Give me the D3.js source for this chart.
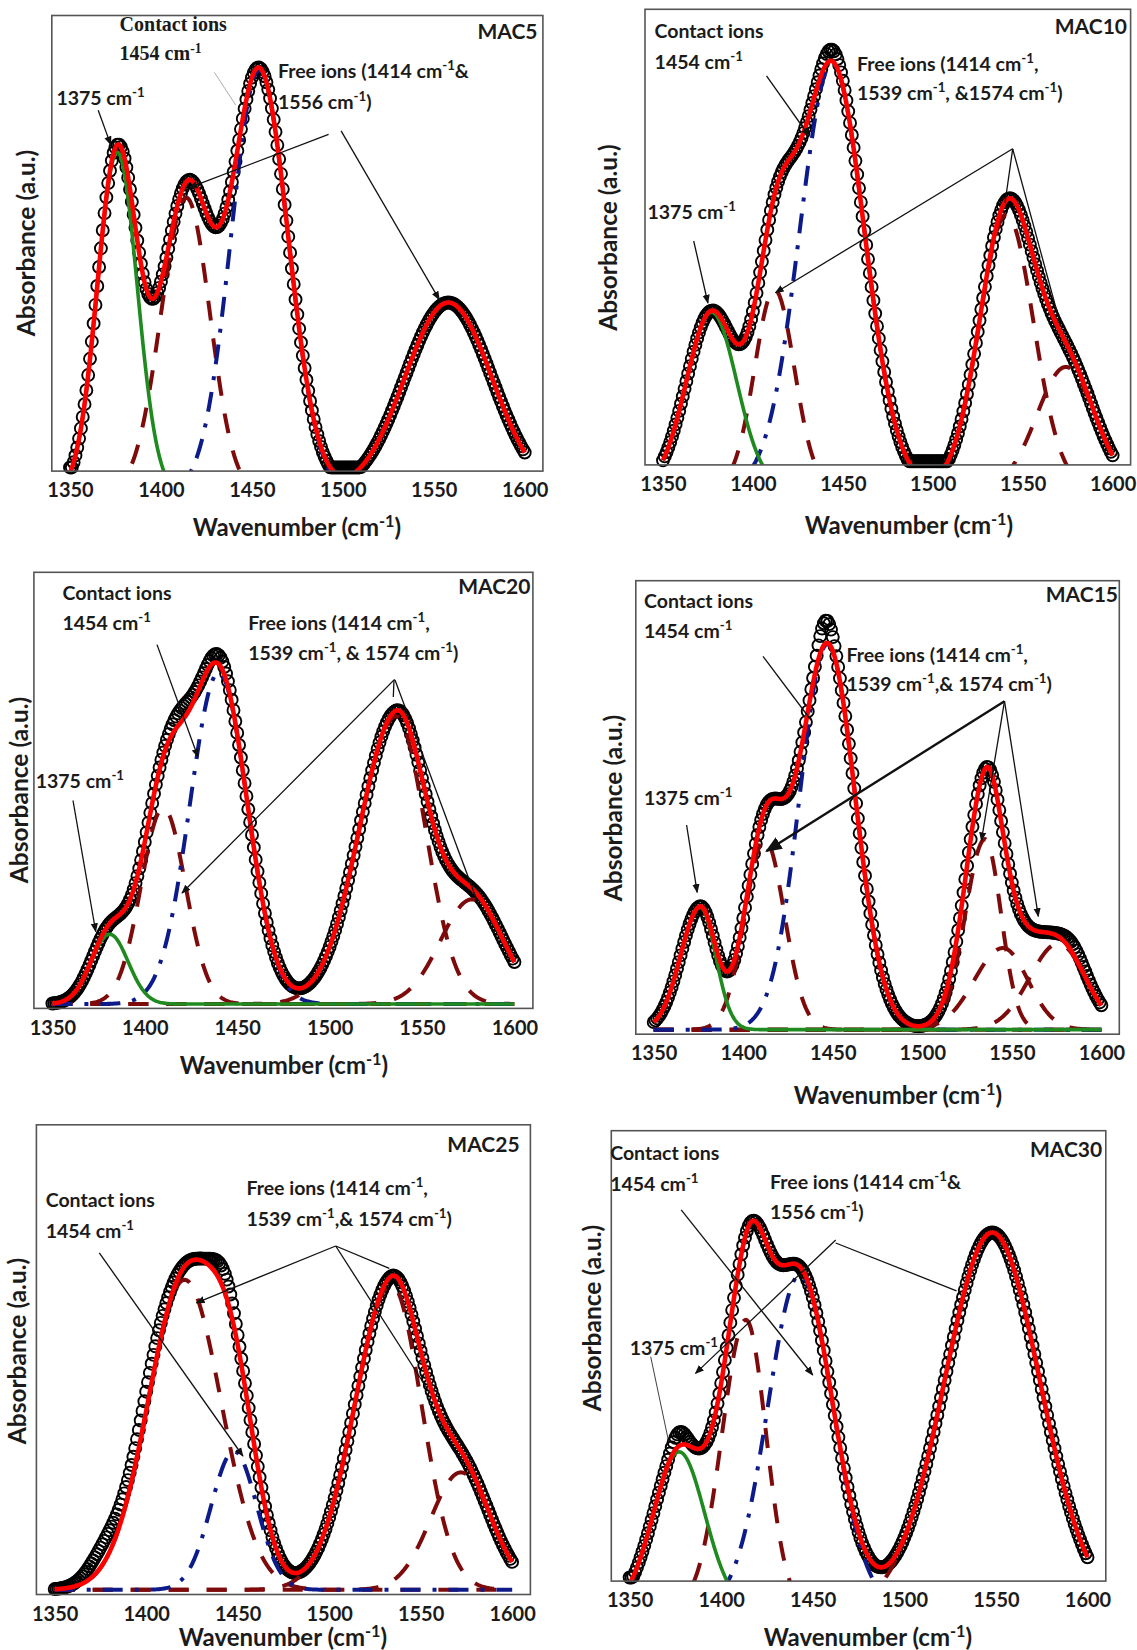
<!DOCTYPE html>
<html>
<head>
<meta charset="utf-8">
<script src="https://cdn.jsdelivr.net/npm/d3@7"></script>
<style>
  body { margin: 0; background: #fff; }
  svg text { font-family: Lato, "Open Sans", sans-serif; font-weight: 700; fill: #1b1b1b; }
</style>
</head>
<body>
<svg id="chart" width="1137" height="1650"></svg>
<script>
// x axis (wavenumber, cm-1)
var tickValues = [1350, 1400, 1450, 1500, 1550, 1600];
var xDomain = [1340, 1610];

// fitted bands, one row per band: [centre cm-1, height a.u., left width, right width]
// heights are read as a fraction of the plot height, base is the fit baseline
var mac5Base = -0.05;
var mac5Band1375 = [[1376, 0.75, 11, 11]];
var mac5Free = [[1414, 0.65, 14, 13], [1558, 0.42, 24, 24]];
var mac5Contact = [[1454, 0.93, 15.5, 16]];
var mac5Misfit = [];

var mac10Base = -0.05;
var mac10Band1375 = [[1377, 0.385, 14, 14]];
var mac10Free = [[1412, 0.435, 11, 11], [1541, 0.60, 15, 15], [1574, 0.265, 16, 16]];
var mac10Contact = [[1444, 0.93, 18, 18]];
var mac10Misfit = [[1444, 0.025, 5, 5]];

var mac20Base = 0.01;
var mac20Band1375 = [[1381, 0.16, 10, 10]];
var mac20Free = [[1410, 0.45, 12, 12], [1536, 0.66, 20, 16], [1577, 0.24, 17, 17]];
var mac20Contact = [[1440, 0.76, 15.5, 15.5]];
var mac20Misfit = [[1420, 0.03, 6, 6], [1440, 0.02, 5, 5]];

var mac15Base = 0.01;
var mac15Band1375 = [[1376, 0.27, 11, 8.6]];
var mac15Free = [[1412, 0.42, 11, 11], [1535, 0.42, 11, 9], [1545, 0.18, 16, 14], [1576, 0.19, 16, 15]];
var mac15Contact = [[1447, 0.85, 15.5, 15.5]];
var mac15Misfit = [[1446, 0.05, 4, 4], [1585, 0.02, 6, 6]];

var mac25Base = 0.01;
var mac25Band1375 = [];
var mac25Free = [[1421, 0.66, 20, 20], [1534, 0.65, 20, 16.5], [1572, 0.25, 16.5, 16.5]];
var mac25Contact = [[1448, 0.295, 12.5, 12.5]];
var mac25Misfit = [[1378, 0.045, 9, 9], [1402, 0.04, 9, 9], [1443, 0.04, 6, 6]];

var mac30Base = -0.06;
var mac30Band1375 = [[1377, 0.347, 14, 14]];
var mac30Free = [[1413.5, 0.64, 13, 11], [1548, 0.834, 26, 26]];
var mac30Contact = [[1443, 0.74, 17.5, 18]];
var mac30Misfit = [[1377, 0.03, 4, 4]];

// annotations: text (^-1 = superscript), left x, middle y
var mac5Notes = [["Contact ions", 119.6, 24.1, "serif"], ["1454 cm^-1", 119.6, 53.4, "serif"],
  ["1375 cm^-1", 56.4, 98.1], ["Free ions (1414 cm^-1&", 277.9, 70.6], ["1556 cm^-1)", 277.9, 101.6]];
var mac10Notes = [["Contact ions", 654.6, 31], ["1454 cm^-1", 654.6, 62], ["Free ions (1414 cm^-1,", 857, 63.7],
  ["1539 cm^-1, &1574 cm^-1)", 857, 93], ["1375 cm^-1", 647.5, 211.8]];
var mac20Notes = [["Contact ions", 62.5, 593.2], ["1454 cm^-1", 62.5, 623], ["Free ions (1414 cm^-1,", 248.2, 623],
  ["1539 cm^-1, & 1574 cm^-1)", 248.2, 652.9], ["1375 cm^-1", 35.7, 780.6]];
var mac15Notes = [["Contact ions", 644, 600.6], ["1454 cm^-1", 644, 630.6], ["Free ions (1414 cm^-1,", 846.4, 654.7],
  ["1539 cm^-1,& 1574 cm^-1)", 846.4, 684], ["1375 cm^-1", 644, 797.6]];
var mac25Notes = [["Contact ions", 45.7, 1199.5], ["1454 cm^-1", 45.7, 1230.5], ["Free ions (1414 cm^-1,", 246.4, 1187.5],
  ["1539 cm^-1,& 1574 cm^-1)", 246.4, 1218.5]];
var mac30Notes = [["Contact ions", 610.2, 1153], ["1454 cm^-1", 610.2, 1184], ["Free ions (1414 cm^-1&", 770, 1182.3],
  ["1556 cm^-1)", 770, 1211.6], ["1375 cm^-1", 629.7, 1347.6]];

// pointer lines: x1, y1, x2, y2, arrowhead, width, colour
var mac5Pointers = [[98.2, 110.2, 110.7, 144.6, 1], [214.3, 72.3, 235.7, 105, 0, 0.8, "#999"],
  [328.6, 134.3, 189.3, 187.7, 1], [341.1, 130.9, 439.3, 299.6, 1]];
var mac10Pointers = [[766.5, 75.8, 809.1, 136, 1], [693.7, 241, 707.9, 303, 1], [1012.7, 148.8, 775.4, 292.7, 1],
  [1012.7, 148.8, 1005, 203, 0], [1012.7, 148.8, 1060, 323, 0]];
var mac20Pointers = [[157, 644.6, 198, 757, 1], [73, 800.5, 95.7, 931.5, 1], [394.6, 679.4, 182, 893, 1],
  [394, 680, 393.3, 697, 0], [395, 680, 478.6, 905, 0]];
var mac15Pointers = [[763, 656.4, 810.9, 720, 0], [686.6, 825, 697.2, 892.3, 1], [1004.5, 701.2, 766.5, 851, 1, 2.4],
  [1004.5, 701.2, 981.4, 840.6, 1], [1004.5, 701.2, 1038.3, 916.4, 1]];
var mac25Pointers = [[99.3, 1252.9, 242.9, 1456, 1], [335.7, 1246, 196.4, 1302.8, 1],
  [335.7, 1246, 389.3, 1268.4, 0], [335.7, 1246, 430, 1393, 0]];
var mac30Pointers = [[681.2, 1209.9, 812.7, 1375, 1], [650.7, 1356.7, 669, 1443.3, 0, 0.8],
  [835.7, 1240, 695.5, 1373.4, 1], [835.7, 1243, 956.5, 1290.8, 0]];

var panels = [
  {name: "MAC5", base: mac5Base, b1375: mac5Band1375, free: mac5Free, contact: mac5Contact, misfit: mac5Misfit,
   notes: mac5Notes, pointers: mac5Pointers, box: [51.8, 15.5, 542.9, 471.1], tag: [537.5, 31], xt: [297, 527], yt: [26.8, 243]},
  {name: "MAC10", base: mac10Base, b1375: mac10Band1375, free: mac10Free, contact: mac10Contact, misfit: mac10Misfit,
   notes: mac10Notes, pointers: mac10Pointers, box: [645, 9.3, 1130.6, 464.9], tag: [1127, 26], xt: [909, 525], yt: [608.4, 237.6]},
  {name: "MAC20", base: mac20Base, b1375: mac20Band1375, free: mac20Free, contact: mac20Contact, misfit: mac20Misfit,
   notes: mac20Notes, pointers: mac20Pointers, box: [33.9, 572.3, 532.9, 1008.4], tag: [530.4, 586.5], xt: [284, 1065.8], yt: [19.6, 790]},
  {name: "MAC15", base: mac15Base, b1375: mac15Band1375, free: mac15Free, contact: mac15Contact, misfit: mac15Misfit,
   notes: mac15Notes, pointers: mac15Pointers, box: [635.8, 580.7, 1119.3, 1034.2], tag: [1118, 594.4], xt: [898, 1095], yt: [613.7, 808]},
  {name: "MAC25", base: mac25Base, b1375: mac25Band1375, free: mac25Free, contact: mac25Contact, misfit: mac25Misfit,
   notes: mac25Notes, pointers: mac25Pointers, box: [36.4, 1124.8, 530.4, 1594.5], tag: [519.6, 1144.4], xt: [283, 1637], yt: [17.9, 1351]},
  {name: "MAC30", base: mac30Base, b1375: mac30Band1375, free: mac30Free, contact: mac30Contact, misfit: mac30Misfit,
   notes: mac30Notes, pointers: mac30Pointers, box: [611.3, 1130.7, 1105.8, 1581.1], tag: [1102.2, 1149.6], xt: [868, 1637], yt: [592.4, 1318]}
];

var svg = d3.select("#chart");
var defs = svg.append("defs");
defs.append("marker")
    .attr("id", "arrow")
    .attr("viewBox", "0 0 10 10")
    .attr("refX", 9).attr("refY", 5)
    .attr("markerWidth", 7).attr("markerHeight", 7)
    .attr("orient", "auto")
    .append("path").attr("d", "M0,1L10,5L0,9z").attr("fill", "#111");

// asymmetric gaussian band
function band(p, w) {
    var s = w < p[0] ? p[2] : p[3];
    return p[1] * Math.exp(-(w - p[0]) * (w - p[0]) / (2 * s * s));
}
function sumBands(list, w) {
    return d3.sum(list, function(p) { return band(p, w); });
}

// writes "cm^-1" style text with a raised -1
function richText(sel, str) {
    var parts = str.split("^");
    sel.append("tspan").text(parts[0]);
    parts.slice(1).forEach(function(p) {
        sel.append("tspan").attr("baseline-shift", "super").attr("font-size", "68%").text(p.slice(0, 2));
        sel.append("tspan").text(p.slice(2));
    });
}

var lineGrid = d3.range(1350, 1600.01, 0.5);
var pointGrid = d3.range(1350, 1600.01, 1);

panels.forEach(function(pn, i) {
    var b = pn.box;
    var x = d3.scaleLinear().domain(xDomain).range([b[0], b[2]]);
    var y = d3.scaleLinear().domain([0, 1]).range([b[3], b[1]]);
    var g = svg.append("g").attr("class", "panel");

    defs.append("clipPath").attr("id", "clip" + i)
        .append("rect").attr("x", b[0]).attr("y", b[1]).attr("width", b[2] - b[0]).attr("height", b[3] - b[1]);

    var allBands = pn.b1375.concat(pn.free, pn.contact);
    var fit = function(w) { return pn.base + sumBands(allBands, w); };
    var line = d3.line().x(function(d) { return x(d[0]); }).y(function(d) { return y(d[1]); });

    // measured points
    var measured = pointGrid.map(function(w) {
        return [w, Math.max(0.008, fit(w) + sumBands(pn.misfit, w))];
    });
    g.append("g").selectAll("circle")
        .data(measured)
        .enter().append("circle")
        .attr("cx", function(d) { return x(d[0]); })
        .attr("cy", function(d) { return y(d[1]); })
        .attr("r", 6)
        .attr("fill", "none")
        .attr("stroke", "#000")
        .attr("stroke-width", 1.9);

    var curves = g.append("g").attr("clip-path", "url(#clip" + i + ")");
    pn.free.forEach(function(p) {
        curves.append("path")
            .datum(lineGrid.map(function(w) { return [w, pn.base + band(p, w)]; }))
            .attr("d", line)
            .attr("fill", "none").attr("stroke", "#7d0b0b").attr("stroke-width", 4)
            .attr("stroke-dasharray", "20,18");
    });
    pn.contact.forEach(function(p) {
        curves.append("path")
            .datum(lineGrid.map(function(w) { return [w, pn.base + band(p, w)]; }))
            .attr("d", line)
            .attr("fill", "none").attr("stroke", "#0c1a8a").attr("stroke-width", 4)
            .attr("stroke-dasharray", "20,12,4,12");
    });
    pn.b1375.forEach(function(p) {
        curves.append("path")
            .datum(lineGrid.map(function(w) { return [w, pn.base + band(p, w)]; }))
            .attr("d", line)
            .attr("fill", "none").attr("stroke", "#1f8a1f").attr("stroke-width", 3.6);
    });
    curves.append("path")
        .datum(lineGrid.map(function(w) { return [w, fit(w)]; }))
        .attr("d", line)
        .attr("fill", "none").attr("stroke", "#ff0000").attr("stroke-width", 4.6)
        .attr("stroke-linejoin", "round");

    // frame
    g.append("rect")
        .attr("x", b[0]).attr("y", b[1]).attr("width", b[2] - b[0]).attr("height", b[3] - b[1])
        .attr("fill", "none").attr("stroke", "#555").attr("stroke-width", 1.6);

    var axis = g.append("g")
        .attr("transform", "translate(0," + b[3] + ")")
        .call(d3.axisBottom(x).tickValues(tickValues).tickSize(0).tickPadding(12).tickFormat(d3.format("d")));
    axis.select(".domain").remove();
    axis.selectAll("text").attr("font-size", 20).attr("font-family", "Lato, sans-serif").attr("font-weight", 700).attr("fill", "#1b1b1b");

    var xt = g.append("text").attr("x", pn.xt[0]).attr("y", pn.xt[1] + 8.5)
        .attr("text-anchor", "middle").attr("font-size", 24);
    richText(xt, "Wavenumber (cm^-1)");
    g.append("text")
        .attr("transform", "translate(" + (pn.yt[0] + 8.5) + "," + pn.yt[1] + ") rotate(-90)")
        .attr("text-anchor", "middle").attr("font-size", 24.5)
        .text("Absorbance (a.u.)");
    g.append("text").attr("x", pn.tag[0]).attr("y", pn.tag[1] + 7.5)
        .attr("text-anchor", "end").attr("font-size", 21).text(pn.name);

    pn.pointers.forEach(function(a) {
        g.append("line")
            .attr("x1", a[0]).attr("y1", a[1]).attr("x2", a[2]).attr("y2", a[3])
            .attr("stroke", a[6] || "#111").attr("stroke-width", a[5] || 1.3)
            .attr("marker-end", a[4] ? "url(#arrow)" : null);
    });
    pn.notes.forEach(function(n) {
        var serif = n[3] === "serif";
        var t = g.append("text").attr("x", n[1]).attr("y", n[2] + 7)
            .attr("font-size", serif ? 20 : 19.5)
            .style("font-family", serif ? "'Liberation Serif', serif" : null);
        richText(t, n[0]);
    });
});
</script>
</body>
</html>
